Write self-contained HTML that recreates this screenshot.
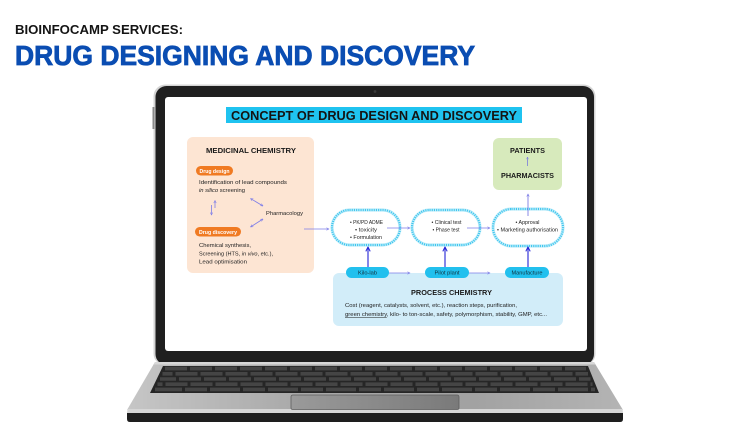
<!DOCTYPE html>
<html>
<head>
<meta charset="utf-8">
<style>
  html,body{margin:0;padding:0;background:#fff;}
  body{width:750px;height:422px;overflow:hidden;}
  svg{display:block;}
  text{font-family:"Liberation Sans", sans-serif;}
</style>
</head>
<body>
<svg width="750" height="422" viewBox="0 0 750 422" xmlns="http://www.w3.org/2000/svg">
  <defs>
    <marker id="ah" viewBox="0 0 10 10" refX="9" refY="5" markerWidth="4" markerHeight="4" orient="auto-start-reverse">
      <path d="M1,1 L9,5 L1,9" fill="none" stroke="#7d7de8" stroke-width="1.6"/>
    </marker>
    <marker id="ahb" viewBox="0 0 10 10" refX="8" refY="5" markerWidth="5" markerHeight="5" orient="auto-start-reverse">
      <path d="M1,1 L9,5 L1,9" fill="none" stroke="#2323d6" stroke-width="1.8"/>
    </marker>
    <linearGradient id="base" x1="0" x2="1" y1="0" y2="0">
      <stop offset="0" stop-color="#c6c6c6"/>
      <stop offset="0.35" stop-color="#a9a9a9"/>
      <stop offset="0.7" stop-color="#a2a2a2"/>
      <stop offset="1" stop-color="#b4b4b4"/>
    </linearGradient>
    <linearGradient id="pad" x1="0" x2="1" y1="0" y2="0">
      <stop offset="0" stop-color="#9a9a9a"/>
      <stop offset="1" stop-color="#7a7a7a"/>
    </linearGradient>
  </defs>

  <!-- Headline -->
  <text x="15" y="34" font-size="12.5" font-weight="bold" fill="#141414" textLength="168" lengthAdjust="spacingAndGlyphs">BIOINFOCAMP SERVICES:</text>
  <text x="15" y="65" font-size="28" font-weight="bold" fill="#0a4db2" stroke="#0a4db2" stroke-width="0.8" textLength="460" lengthAdjust="spacingAndGlyphs">DRUG DESIGNING AND DISCOVERY</text>

  <!-- Laptop lid -->
  <rect x="153.5" y="84.5" width="442" height="281" rx="12" fill="#d4d4d4"/>
  <rect x="155.5" y="86" width="438.5" height="279" rx="11" fill="#1f1f1f"/>
  <rect x="152.5" y="107" width="2" height="22" fill="#8a8a8a"/>
  <rect x="165" y="97" width="422" height="254" rx="3" fill="#ffffff"/>
  <circle cx="375" cy="91.5" r="1.4" fill="#3a3a3a"/>

  <!-- Base -->
  <polygon points="155,362 594,362 623,410 127,410" fill="url(#base)"/>
  <polygon points="155,362 594,362 595.5,364.5 153.5,364.5" fill="#d8d8d8"/>
  <polygon points="127.5,409 622.5,409 623,413 127,413" fill="#d6d6d6"/>
  <path d="M127,413 H623 V419 Q623,422 620,422 H130 Q127,422 127,419 Z" fill="#1e1e1e"/>

  <!-- Keyboard -->
  <polygon points="163,366 588,366 599,393 150,393" fill="#262626"/>
  <g stroke="#454545" stroke-width="3.6" fill="none">
    <line x1="165" y1="368.6" x2="586" y2="368.6" stroke-dasharray="22 3"/>
    <line x1="162.5" y1="373.8" x2="588" y2="373.8" stroke-dasharray="22 3" stroke-dashoffset="12"/>
    <line x1="160" y1="379" x2="590.5" y2="379" stroke-dasharray="22 3" stroke-dashoffset="6"/>
    <line x1="157.5" y1="384.2" x2="592.5" y2="384.2" stroke-dasharray="22 3" stroke-dashoffset="17"/>
    <line x1="155" y1="389.4" x2="595" y2="389.4" stroke-dasharray="30 3 22 3" stroke-dashoffset="3"/>
  </g>

  <!-- Trackpad -->
  <path d="M293,395 H457 Q459,395 459,397 V408 Q459,409.5 457,409.5 H293 Q291,409.5 291,408 V397 Q291,395 293,395 Z" fill="url(#pad)" stroke="#5e5e5e" stroke-width="0.8"/>

  <!-- Screen content: title -->
  <rect x="226" y="107" width="296" height="16" fill="#1fc3f0"/>
  <text x="374" y="120" font-size="12.5" font-weight="bold" fill="#141414" text-anchor="middle" textLength="286" lengthAdjust="spacingAndGlyphs">CONCEPT OF DRUG DESIGN AND DISCOVERY</text>

  <!-- Medicinal chemistry box -->
  <rect x="187" y="137" width="127" height="136" rx="6" fill="#fde5d3"/>
  <text x="251" y="153" font-size="7.5" font-weight="bold" fill="#1a1a1a" text-anchor="middle" textLength="90" lengthAdjust="spacingAndGlyphs">MEDICINAL CHEMISTRY</text>

  <rect x="196" y="166" width="37" height="9.5" rx="4.75" fill="#f07a22"/>
  <text x="214.5" y="172.8" font-size="5.5" font-weight="bold" fill="#fff" text-anchor="middle" textLength="30" lengthAdjust="spacingAndGlyphs">Drug design</text>
  <text x="199" y="184" font-size="5.3" fill="#222" textLength="88" lengthAdjust="spacingAndGlyphs">Identification of lead compounds</text>
  <text x="199" y="192" font-size="5.3" fill="#222" textLength="46" lengthAdjust="spacingAndGlyphs"><tspan font-style="italic">in silico</tspan> screening</text>

  <line x1="215" y1="208" x2="215" y2="200.5" stroke="#7d7de8" stroke-width="0.8" marker-end="url(#ah)"/>
  <line x1="211.5" y1="205" x2="211.5" y2="215" stroke="#7d7de8" stroke-width="0.8" marker-end="url(#ah)"/>
  <line x1="250.5" y1="198.5" x2="263" y2="206" stroke="#7d7de8" stroke-width="0.8" marker-start="url(#ah)" marker-end="url(#ah)"/>
  <line x1="250.5" y1="227" x2="263" y2="219" stroke="#7d7de8" stroke-width="0.8" marker-start="url(#ah)" marker-end="url(#ah)"/>
  <text x="266" y="215" font-size="5.5" fill="#222" textLength="37" lengthAdjust="spacingAndGlyphs">Pharmacology</text>

  <rect x="195" y="227" width="46" height="9.5" rx="4.75" fill="#f07a22"/>
  <text x="218" y="233.8" font-size="5.5" font-weight="bold" fill="#fff" text-anchor="middle" textLength="38" lengthAdjust="spacingAndGlyphs">Drug discovery</text>
  <text x="199" y="247" font-size="5.3" fill="#222" textLength="52" lengthAdjust="spacingAndGlyphs">Chemical synthesis,</text>
  <text x="199" y="255.3" font-size="5.3" fill="#222" textLength="74" lengthAdjust="spacingAndGlyphs">Screening (HTS, <tspan font-style="italic">in vivo</tspan>, etc.),</text>
  <text x="199" y="263.5" font-size="5.3" fill="#222" textLength="48" lengthAdjust="spacingAndGlyphs">Lead optimisation</text>

  <!-- arrow med -> cloud1 -->
  <line x1="304" y1="229" x2="329" y2="229" stroke="#7d7de8" stroke-width="0.8" marker-end="url(#ah)"/>

  <!-- Clouds -->
  <g fill="#fff">
    <rect x="332" y="210" width="68" height="35" rx="17.5" stroke="#c4eefa" stroke-width="3.2"/>
    <rect x="412" y="210" width="68" height="35" rx="17.5" stroke="#c4eefa" stroke-width="3.2"/>
    <rect x="493" y="209" width="70" height="37" rx="18.5" stroke="#c4eefa" stroke-width="3.2"/>
  </g>
  <g fill="none" stroke="#3fc6ee" stroke-width="2.2" stroke-dasharray="1.1 1.1">
    <rect x="332" y="210" width="68" height="35" rx="17.5"/>
    <rect x="412" y="210" width="68" height="35" rx="17.5"/>
    <rect x="493" y="209" width="70" height="37" rx="18.5"/>
  </g>

  <g font-size="5" fill="#222" text-anchor="middle">
    <text x="366.5" y="224" textLength="33" lengthAdjust="spacingAndGlyphs">• PK/PD ADME</text>
    <text x="366" y="231.3" textLength="22" lengthAdjust="spacingAndGlyphs">• toxicity</text>
    <text x="366" y="238.8" textLength="32" lengthAdjust="spacingAndGlyphs">• Formulation</text>
    <text x="446.5" y="224" textLength="30" lengthAdjust="spacingAndGlyphs">• Clinical test</text>
    <text x="446" y="231.3" textLength="27" lengthAdjust="spacingAndGlyphs">• Phase test</text>
    <text x="527.5" y="224" textLength="24" lengthAdjust="spacingAndGlyphs">• Approval</text>
    <text x="527.5" y="231.3" textLength="61" lengthAdjust="spacingAndGlyphs">• Marketing authorisation</text>
  </g>

  <!-- arrows between clouds -->
  <line x1="387" y1="228" x2="410" y2="228" stroke="#7d7de8" stroke-width="0.8" marker-end="url(#ah)"/>
  <line x1="467" y1="228" x2="490" y2="228" stroke="#7d7de8" stroke-width="0.8" marker-end="url(#ah)"/>
  <!-- arrow cloud3 -> pharmacists -->
  <line x1="528" y1="216" x2="528" y2="194" stroke="#6c6ce0" stroke-width="0.8" marker-end="url(#ah)"/>

  <!-- Pharmacists box -->
  <rect x="493" y="138" width="69" height="52" rx="6" fill="#d7eabc"/>
  <text x="527.5" y="153" font-size="7" font-weight="bold" fill="#1a1a1a" text-anchor="middle" textLength="35" lengthAdjust="spacingAndGlyphs">PATIENTS</text>
  <line x1="527.5" y1="166" x2="527.5" y2="157" stroke="#6c6ce0" stroke-width="0.7" marker-end="url(#ah)"/>
  <text x="527.5" y="178" font-size="7" font-weight="bold" fill="#1a1a1a" text-anchor="middle" textLength="53" lengthAdjust="spacingAndGlyphs">PHARMACISTS</text>

  <!-- Process chemistry box -->
  <rect x="333" y="273" width="230" height="53" rx="6" fill="#d2edf9"/>

  <!-- blue up arrows -->
  <line x1="368" y1="268" x2="368" y2="247.5" stroke="#2323d6" stroke-width="1.1" marker-end="url(#ahb)"/>
  <line x1="445" y1="268" x2="445" y2="247.5" stroke="#2323d6" stroke-width="1.1" marker-end="url(#ahb)"/>
  <line x1="528" y1="268" x2="528" y2="247.5" stroke="#2323d6" stroke-width="1.1" marker-end="url(#ahb)"/>

  <!-- pills -->
  <rect x="346" y="267" width="43" height="11" rx="5.5" fill="#22c0ee"/>
  <rect x="425" y="267" width="44" height="11" rx="5.5" fill="#22c0ee"/>
  <rect x="505" y="267" width="44" height="11" rx="5.5" fill="#22c0ee"/>
  <g font-size="5.5" fill="#12303d" text-anchor="middle">
    <text x="367.5" y="274.5" textLength="19" lengthAdjust="spacingAndGlyphs">Kilo-lab</text>
    <text x="447" y="274.5" textLength="25" lengthAdjust="spacingAndGlyphs">Pilot plant</text>
    <text x="527" y="274.5" textLength="31" lengthAdjust="spacingAndGlyphs">Manufacture</text>
  </g>
  <line x1="389" y1="273" x2="410" y2="273" stroke="#7d7de8" stroke-width="0.8" marker-end="url(#ah)"/>
  <line x1="469" y1="273" x2="490" y2="273" stroke="#7d7de8" stroke-width="0.8" marker-end="url(#ah)"/>

  <text x="451.5" y="295" font-size="7.5" font-weight="bold" fill="#1a1a1a" text-anchor="middle" textLength="81" lengthAdjust="spacingAndGlyphs">PROCESS CHEMISTRY</text>
  <text x="345" y="307" font-size="5.3" fill="#222" textLength="172" lengthAdjust="spacingAndGlyphs">Cost (reagent, catalysts, solvent, etc.), reaction steps, purification,</text>
  <text x="345" y="316" font-size="5.3" fill="#222" textLength="202" lengthAdjust="spacingAndGlyphs"><tspan text-decoration="underline">green chemistry</tspan>, kilo- to ton-scale, safety, polymorphism, stability, GMP, etc...</text>
</svg>
</body>
</html>
